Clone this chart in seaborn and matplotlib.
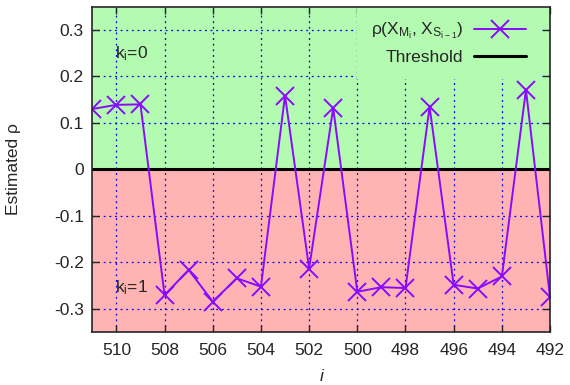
import numpy as np
import pandas as pd
import seaborn as sns
import matplotlib.pyplot as plt

# valores
idx = [511, 510, 509, 508, 507, 506, 505, 504, 503, 502, 501,
       500, 499, 498, 497, 496, 495, 494, 493, 492]
rho = [0.130, 0.139, 0.140, -0.270, -0.216, -0.284, -0.234, -0.252, 0.159, -0.213, 0.132,
       -0.263, -0.253, -0.255, 0.135, -0.248, -0.256, -0.230, 0.171, -0.275]
threshold = 0.0
xticks = [510, 508, 506, 504, 502, 500, 498, 496, 494, 492]
yticks = [-0.3, -0.2, -0.1, 0, 0.1, 0.2, 0.3]
ytick_labels = ['-0.3', '-0.2', '-0.1', '0', '0.1', '0.2', '0.3']

df = pd.DataFrame({'i': idx, 'rho': rho})

sns.set_style('ticks')
plt.rcParams['font.family'] = ['Liberation Sans', 'DejaVu Sans']
plt.rcParams['mathtext.default'] = 'regular'
fs = 12.5
plt.rcParams['font.size'] = fs

green = '#b3fbb0'
pink = '#ffb3b3'
purple = '#8a0aff'

fig = plt.figure(figsize=(5.7, 3.85), dpi=100)
ax = fig.add_axes([0.1619, 0.137, 0.8031, 0.8456])

ax.set_xlim(511, 492)
ax.set_ylim(-0.35, 0.35)
ax.axhspan(0, 0.35, color=green, zorder=0, lw=0)
ax.axhspan(-0.35, 0, color=pink, zorder=0, lw=0)

ax.set_xticks(xticks)
ax.set_yticks(yticks)
ax.set_yticklabels(ytick_labels)
ax.grid(True, color='#0000ff', linestyle=(0, (1.5, 3)), linewidth=0.9)
for gl in ax.get_xgridlines() + ax.get_ygridlines():
    gl.set_zorder(1)

ax.axhline(threshold, color='black', lw=2.2, zorder=3, label='Threshold')
sns.lineplot(data=df, x='i', y='rho', sort=False, ax=ax, color=purple, lw=1.4,
             marker='x', markersize=13, markeredgewidth=1.4, markeredgecolor=purple,
             label=r'ρ(X$_{M_i}$, X$_{S_{i-1}}$)', zorder=4)

ax.text(510.05, 0.25, r'k$_i$=0', ha='left', va='center', fontsize=fs, zorder=5)
ax.text(510.05, -0.254, r'k$_i$=1', ha='left', va='center', fontsize=fs, zorder=5)

h, l = ax.get_legend_handles_labels()
order = [l.index(r'ρ(X$_{M_i}$, X$_{S_{i-1}}$)'), l.index('Threshold')]
leg = ax.legend([h[k] for k in order], [l[k] for k in order], loc='upper right',
                bbox_to_anchor=(0.978, 1.0),
                markerfirst=False, frameon=True, facecolor=green, edgecolor='none',
                framealpha=1, fancybox=False, handlelength=3.0, fontsize=fs,
                borderpad=0.8, labelspacing=0.5, borderaxespad=0.0, handletextpad=0.6)
leg.set_zorder(6)

ax.tick_params(direction='in', top=True, right=True, length=5, width=1, labelsize=fs)
ax.tick_params(axis='x', pad=8)
ax.tick_params(axis='y', pad=6)
for s in ax.spines.values():
    s.set_linewidth(1.2)
    s.set_zorder(7)

ax.set_xlabel('i', style='italic', fontsize=fs, labelpad=8)
ax.set_ylabel('Estimated ρ', fontsize=fs, labelpad=24)

fig.savefig('out.png', dpi=100)
